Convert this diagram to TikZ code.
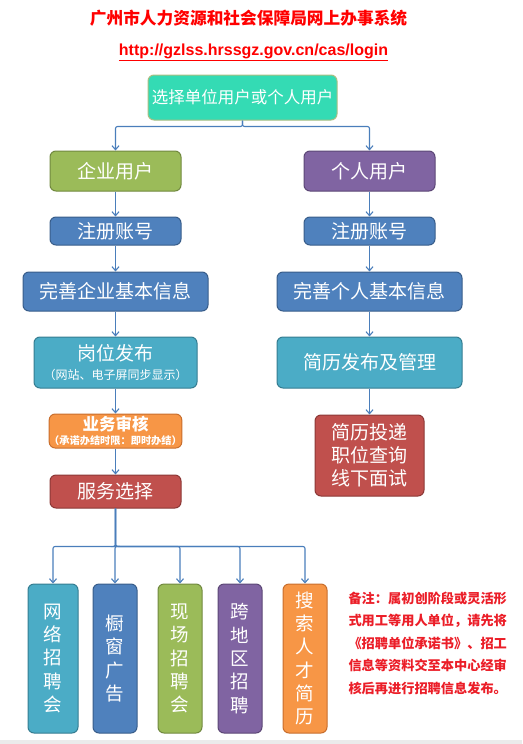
\documentclass[tikz,border=0pt]{standalone}
\usepackage{fontspec}
\setmainfont{Liberation Sans}
\newfontfamily\cjk{Noto Sans CJK SC}
\usetikzlibrary{arrows.meta,positioning}
\definecolor{tealfill}{RGB}{52,219,180}
\definecolor{tealline}{RGB}{170,190,130}
\definecolor{greenfill}{RGB}{155,187,89}
\definecolor{greenline}{RGB}{113,137,63}
\definecolor{purplefill}{RGB}{128,100,162}
\definecolor{purpleline}{RGB}{92,71,118}
\definecolor{bluefill}{RGB}{79,129,189}
\definecolor{blueline}{RGB}{56,93,138}
\definecolor{aquafill}{RGB}{75,172,198}
\definecolor{aqualine}{RGB}{53,125,145}
\definecolor{orangefill}{RGB}{247,150,70}
\definecolor{orangeline}{RGB}{200,110,45}
\definecolor{redfill}{RGB}{192,80,77}
\definecolor{redline}{RGB}{140,56,54}
\definecolor{linkc}{RGB}{74,126,187}
\definecolor{notered}{RGB}{235,30,40}
\tikzset{
  box/.style={
    rounded corners=6pt,
    line width=1pt,
    inner sep=0pt,
    align=center,
    text=white,
    font=\cjk\fontsize{19}{21}\selectfont
  },
  teal/.style={box, fill=tealfill, draw=tealline},
  green/.style={box, fill=greenfill, draw=greenline},
  purple/.style={box, fill=purplefill, draw=purpleline},
  blue/.style={box, fill=bluefill, draw=blueline},
  aqua/.style={box, fill=aquafill, draw=aqualine},
  orange/.style={box, fill=orangefill, draw=orangeline},
  red/.style={box, fill=redfill, draw=redline},
  link/.style={
    draw=linkc,
    line width=1.1pt,
    -{Straight Barb[length=4pt,width=7pt]}
  },
}
\tikzset{
  column/.style={
    minimum width=#1,
    minimum height=149pt,
    font=\cjk\fontsize{18.5}{23.3}\selectfont
  },
}

\begin{document}
\begin{tikzpicture}[x=1pt,y=-1pt]
  \useasboundingbox (0,0) rectangle (522,744);
  \fill[black!8] (0,740) rectangle (522,744);
  % header
  \node[text=red, font=\cjk\bfseries\fontsize{16.7}{18}\selectfont] (title) at (248.5,18) {广州市人力资源和社会保障局网上办事系统};
  \node[text=red, font=\bfseries\fontsize{16}{18}\selectfont] (url) at (253.5,52) {\underline{http://gzlss.hrssgz.gov.cn/cas/login}};
  \node[teal, minimum width=189pt, minimum height=45pt, font=\cjk\fontsize{16.5}{18}\selectfont] (top) at (242.5,97.5) {选择单位用户或个人用户};
  % employer side
  \node[green, minimum width=131pt, minimum height=40pt] (corp) at (115.5,171) {企业用户};
  \node[blue, minimum width=131pt, minimum height=28pt] (regL) at (115.5,231) {注册账号};
  \node[blue, minimum width=185pt, minimum height=39pt] (infoL) at (115.5,291.5) {完善企业基本信息};
  \node[aqua, minimum width=163pt, minimum height=51pt] (post) at (115.5,362.5) {岗位发布\\[-2pt]{\fontsize{12}{13}\selectfont （网站、电子屏同步显示）}};
  \node[orange, minimum width=131pt, minimum height=34pt, font=\cjk\bfseries\fontsize{16.5}{17}\selectfont] (audit) at (115.5,431) {业务审核\\[-3pt]{\fontsize{10.2}{11}\selectfont （承诺办结时限：即时办结）}};
  \node[red, minimum width=131pt, minimum height=33pt] (svc) at (115.5,491.5) {服务选择};
  % person side
  \node[purple, minimum width=131pt, minimum height=40pt] (pers) at (369.5,171) {个人用户};
  \node[blue, minimum width=131pt, minimum height=28pt] (regR) at (369.5,231) {注册账号};
  \node[blue, minimum width=185pt, minimum height=39pt] (infoR) at (369.5,291.5) {完善个人基本信息};
  \node[aqua, minimum width=185pt, minimum height=51pt] (resume) at (369.5,362.5) {简历发布及管理};
  \node[red, minimum width=109pt, minimum height=81pt, font=\cjk\fontsize{19}{23}\selectfont] (deliver) at (369.5,455.5) {简历投递\\职位查询\\线下面试};
  % services
  \foreach \n/\x/\w/\s/\t in {b1/53/50/aqua/{网\\络\\招\\聘\\会},
                              b2/115/44/blue/{橱\\窗\\广\\告},
                              b3/180/44/green/{现\\场\\招\\聘\\会},
                              b4/240/44/purple/{跨\\地\\区\\招\\聘},
                              b5/305/44/orange/{搜\\索\\人\\才\\简\\历}}{
    \node[\s, column=\w pt] (\n) at (\x,658.5) {\t};
    \draw[link, rounded corners=2pt] (svc.south) -- ++(0,38) -| (\n.north);
  }
  \node[anchor=west, align=left, text=notered, font=\cjk\bfseries\fontsize{13.2}{22.5}\selectfont] (note) at (345,643) {备注：属初创阶段或灵活形\\式用工等用人单位，请先将\\《招聘单位承诺书》、招工\\信息等资料交至本中心经审\\核后再进行招聘信息发布。};
  % links
  \draw[link, rounded corners=2pt] (top.south) -- ++(0,6) -| (corp.north);
  \draw[link, rounded corners=2pt] (top.south) -- ++(0,6) -| (pers.north);
  \draw[link] (corp) -- (regL);
  \draw[link] (regL) -- (infoL);
  \draw[link] (infoL) -- (post);
  \draw[link] (post) -- (audit);
  \draw[link] (audit) -- (svc);
  \draw[link] (pers) -- (regR);
  \draw[link] (regR) -- (infoR);
  \draw[link] (infoR) -- (resume);
  \draw[link] (resume) -- (deliver);
\end{tikzpicture}
\end{document}
